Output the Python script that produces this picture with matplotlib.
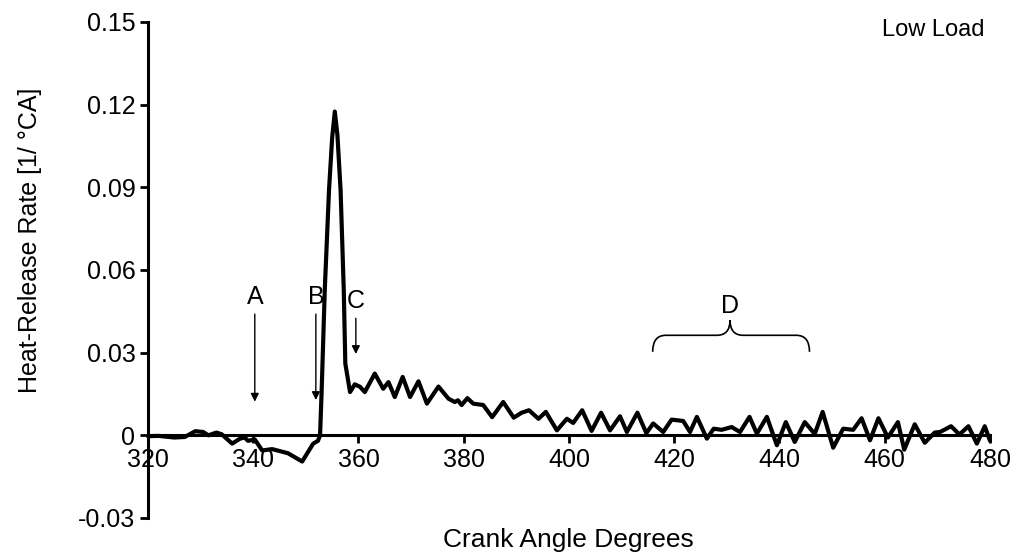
import matplotlib.pyplot as plt
from matplotlib.path import Path
from matplotlib.patches import PathPatch

plt.rcParams['font.family'] = ['Liberation Sans', 'DejaVu Sans']

# values
crank = [320, 322, 325, 327, 329, 330.5, 331.5, 333, 334, 336,
         337.5, 338.4, 339, 340.3, 341.7, 343.6, 346.6, 349.3, 351.4, 352.3,
         352.7, 353.0, 353.6, 354.4, 355.0, 355.5, 356.0, 356.6, 357.2, 357.5,
         358.4, 359.3, 360.3, 361.2, 363.1, 364.7, 365.7, 366.9, 368.4, 369.8,
         371.4, 373.0, 375.2, 377.1, 378.3, 378.9, 379.6, 380.7, 381.8, 383.7,
         385.4, 387.5, 389.5, 391.0, 392.4, 394.2, 395.6, 397.7, 399.6, 400.8,
         402.5, 404.3, 406.1, 407.8, 409.7, 411.0, 413.0, 414.7, 416.0, 417.9,
         419.5, 421.7, 423.0, 424.3, 426.2, 427.5, 429.0, 430.9, 432.5, 434.3,
         435.7, 437.6, 439.5, 441.2, 442.9, 444.8, 446.7, 448.2, 450.2, 452.1,
         454.0, 455.6, 457.2, 458.8, 460.6, 462.5, 463.7, 465.7, 467.6, 469.5,
         470.5, 472.6, 474.2, 475.9, 477.5, 479.0, 480.0]
hrr = [-0.0003, -0.0002, -0.0008, -0.0006, 0.0015, 0.0012, 0.0, 0.001, 0.0004, -0.003,
       -0.0012, -0.0008, -0.002, -0.0015, -0.0055, -0.005, -0.0065, -0.0095, -0.003, -0.002,
       0.0, 0.016, 0.053, 0.089, 0.108, 0.1175, 0.109, 0.089, 0.053, 0.026,
       0.0157, 0.0185, 0.0176, 0.0157, 0.0224, 0.0169, 0.0193, 0.0139, 0.0212, 0.0139,
       0.0196, 0.0115, 0.0177, 0.0133, 0.0121, 0.0127, 0.011, 0.0135, 0.0115, 0.011,
       0.0066, 0.0121, 0.0064, 0.0082, 0.0091, 0.006, 0.0085, 0.0018, 0.006, 0.0045,
       0.0091, 0.0016, 0.0082, 0.0018, 0.0069, 0.0012, 0.0082, 0.0008, 0.0043, 0.0012,
       0.0057, 0.0052, 0.0012, 0.0067, -0.0012, 0.0024, 0.002, 0.003, 0.0012, 0.0067,
       0.0006, 0.0067, -0.0036, 0.0048, -0.0024, 0.0048, 0.0005, 0.0085, -0.0045, 0.0024,
       0.002, 0.0062, -0.0018, 0.0062, -0.0008, 0.0048, -0.0052, 0.004, -0.0027, 0.001,
       0.0012, 0.0033, 0.0003, 0.0033, -0.003, 0.0033, -0.002]

y_ticks = [-0.03, 0, 0.03, 0.06, 0.09, 0.12, 0.15]
y_labels = ['-0.03', '0', '0.03', '0.06', '0.09', '0.12', '0.15']
x_ticks = [320, 340, 360, 380, 400, 420, 440, 460, 480]

# event markers: label, x, arrow top, arrow head
markers = [('A', 340.3, 0.0450, 0.0112),
           ('B', 351.9, 0.0450, 0.0118),
           ('C', 359.5, 0.0435, 0.0285)]

fig = plt.figure(figsize=(10.24, 5.58), dpi=100)
ax = fig.add_axes([0.1445, 0.0717, 0.8223, 0.8889])

ax.plot(crank, hrr, color='black', lw=3, solid_joinstyle='round',
        solid_capstyle='round', clip_on=False, zorder=3)

ax.set_xlim(320, 480)
ax.set_ylim(-0.03, 0.15)
ax.set_xticks(x_ticks)
ax.set_yticks(y_ticks)
ax.set_yticklabels(y_labels)

ax.spines['top'].set_visible(False)
ax.spines['right'].set_visible(False)
ax.spines['bottom'].set_position(('data', 0))
ax.spines['left'].set_linewidth(2.2)
ax.spines['bottom'].set_linewidth(2.2)
ax.tick_params(axis='both', direction='out', length=6, width=2, labelsize=18, pad=3)

fig.text(0.029, 0.570, 'Heat-Release Rate [1/ \u00b0CA]', rotation=90,
         ha='center', va='center', fontsize=18)
fig.text(0.555, 0.032, 'Crank Angle Degrees', ha='center', va='center', fontsize=19)

for name, x, top, head in markers:
    ax.annotate('', xy=(x, head), xytext=(x, top),
                arrowprops=dict(arrowstyle='-|>', color='black', lw=1, mutation_scale=12))
    ax.text(x, top + 0.0008, name, ha='center', va='bottom', fontsize=18)

# brace for region D
x0, x1, xc = 415.9, 445.7, 430.6
y_end, y_h, y_tip = 0.0303, 0.0363, 0.0418
verts = [(x0, y_end), (x0, y_h), (x0 + 2.5, y_h),
         (xc - 2.5, y_h), (xc, y_h), (xc, y_tip),
         (xc, y_h), (xc + 2.5, y_h),
         (x1 - 2.5, y_h), (x1, y_h), (x1, y_end)]
codes = [Path.MOVETO, Path.CURVE3, Path.CURVE3,
         Path.LINETO, Path.CURVE3, Path.CURVE3,
         Path.CURVE3, Path.CURVE3,
         Path.LINETO, Path.CURVE3, Path.CURVE3]
ax.add_patch(PathPatch(Path(verts, codes), fill=False, lw=1.2, color='black'))
ax.text(xc, 0.0425, 'D', ha='center', va='bottom', fontsize=18)

ax.text(479, 0.147, 'Low Load', ha='right', va='center', fontsize=17)

fig.savefig('out.png', dpi=100)
